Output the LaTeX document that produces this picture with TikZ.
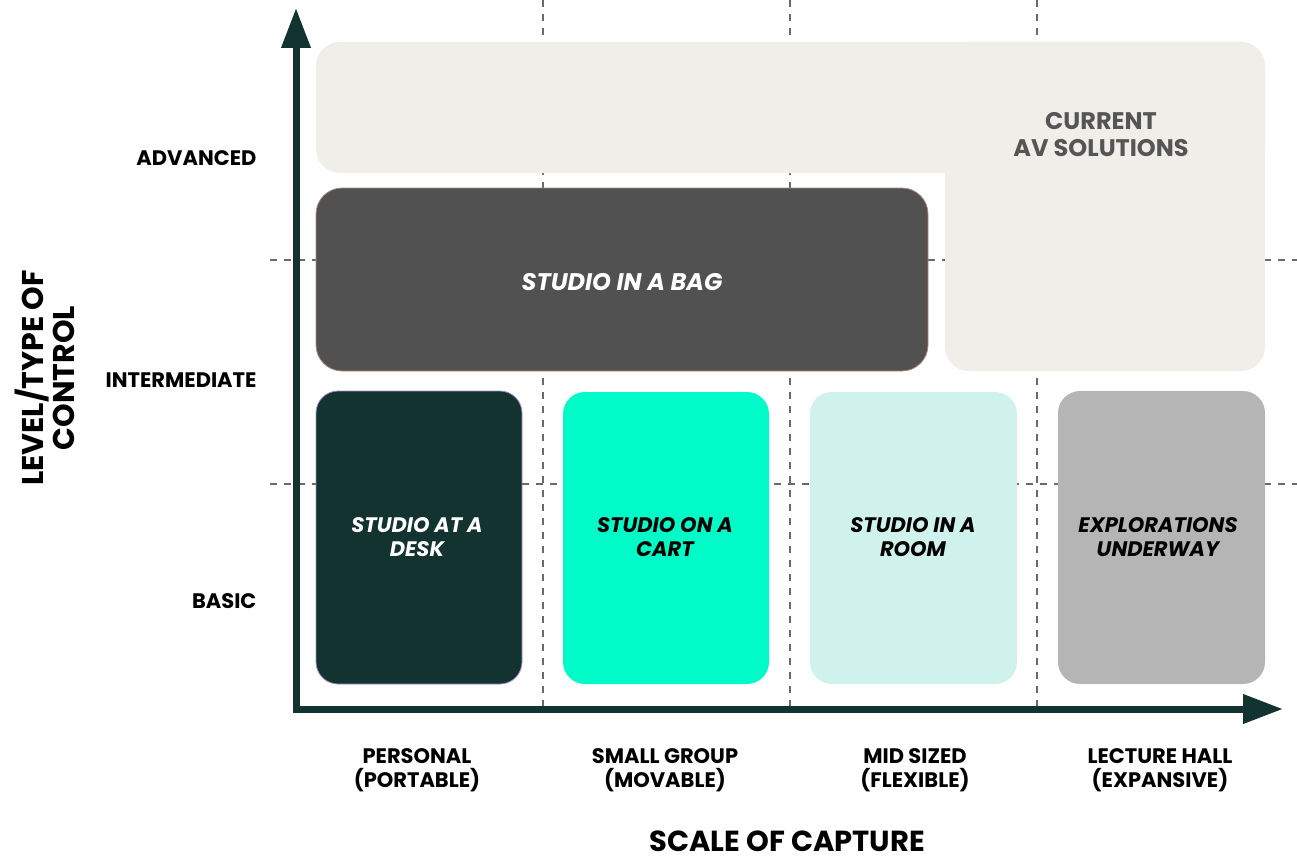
\documentclass[tikz,border=0pt]{standalone}
\usepackage{fontspec}
\setmainfont{Poppins}
\usetikzlibrary{arrows.meta}
\definecolor{axisc}{HTML}{12332F}
\definecolor{beige}{HTML}{F0EEE9}
\definecolor{bagc}{HTML}{515151}
\definecolor{deskc}{HTML}{133331}
\definecolor{cartc}{HTML}{00FAC8}
\definecolor{roomc}{HTML}{CFF2EC}
\definecolor{explc}{HTML}{B5B5B5}
\definecolor{dashc}{HTML}{6A6A6A}
\definecolor{curc}{HTML}{555555}
\tikzset{
  gridline/.style={dashc, line width=1.4pt, dash pattern=on 7pt off 7pt},
  axisline/.style={axisc, line width=7pt, -{Triangle[length=40pt,width=28pt]}},
  boxtxt/.style={font=\fontsize{21}{24}\selectfont\bfseries\itshape, align=center},
  ticklab/.style={font=\fontsize{21}{24}\selectfont\bfseries, align=center},
}
\begin{document}
\begin{tikzpicture}[x=1pt,y=-1pt]
\useasboundingbox (0,0) rectangle (1297,859);
% grid
\coordinate (v1t) at (543,0); \coordinate (v1b) at (543,709);
\coordinate (v2t) at (790,0); \coordinate (v2b) at (790,709);
\coordinate (v3t) at (1037,0); \coordinate (v3b) at (1037,709);
\coordinate (h1l) at (270,260); \coordinate (h1r) at (1297,260);
\coordinate (h2l) at (270,484); \coordinate (h2r) at (1297,484);
\draw[gridline] (v1t) -- (v1b);
\draw[gridline] (v2t) -- (v2b);
\draw[gridline] (v3t) -- (v3b);
\draw[gridline] (h1l) -- (h1r);
\draw[gridline] (h2l) -- (h2r);
% beige L shape
\fill[beige, rounded corners=24pt] (316,42) rectangle (1265,173);
\fill[beige, rounded corners=24pt] (945,42) rectangle (1265,371);
\node[font=\fontsize{24}{27}\selectfont\bfseries, text=curc, align=center] (cur) at (1101,135) {CURRENT\\AV SOLUTIONS};
% studio in a bag
\filldraw[fill=bagc, draw={rgb,255:red,176;green,140;blue,120}, line width=0.8pt, rounded corners=26pt] (316,188) rectangle (928,371);
\node[font=\fontsize{24}{27}\selectfont\bfseries\itshape, text=white] (bag) at (622,282) {STUDIO IN A BAG};
% lower boxes
\filldraw[fill=deskc, draw={rgb,255:red,160;green,140;blue,200}, line width=0.8pt, rounded corners=22pt] (316,391) rectangle (522,684);
\node[boxtxt, text=white] (desk) at (417,537) {STUDIO AT A\\DESK};
\fill[cartc, rounded corners=22pt] (563,392) rectangle (769,684);
\node[boxtxt, text=black] (cart) at (665,537) {STUDIO ON A\\CART};
\fill[roomc, rounded corners=22pt] (810,392) rectangle (1017,684);
\node[boxtxt, text=black] (room) at (913,537) {STUDIO IN A\\ROOM};
\fill[explc, rounded corners=22pt] (1058,391) rectangle (1265,684);
\node[boxtxt, text=black] (expl) at (1158,537) {EXPLORATIONS\\UNDERWAY};
% axes
\coordinate (O) at (296,709);
\coordinate (ytop) at (296,8);
\coordinate (xend) at (1283,709);
\coordinate (O2) at (292.5,709);
\draw[axisline] (O) -- (ytop);
\draw[axisline] (O2) -- (xend);
% tick labels
\node[ticklab, anchor=east] (adv) at (260,158) {ADVANCED};
\node[ticklab, anchor=east] (int) at (260,380) {INTERMEDIATE};
\node[ticklab, anchor=east] (bas) at (260,601) {BASIC};
\node[ticklab] (pers) at (417,770) {PERSONAL\\(PORTABLE)};
\node[ticklab] (small) at (665,770) {SMALL GROUP\\(MOVABLE)};
\node[ticklab] (mid) at (915,770) {MID SIZED\\(FLEXIBLE)};
\node[ticklab] (lect) at (1160,770) {LECTURE HALL\\(EXPANSIVE)};
% axis titles
\node[font=\fontsize{29}{30}\selectfont\bfseries, inner sep=0pt, anchor=base] (xt) at (787,851) {SCALE OF CAPTURE};
\node[font=\fontsize{30}{31}\selectfont\bfseries, align=center, rotate=90] (yt) at (45,378) {LEVEL/TYPE OF\\CONTROL};
\end{tikzpicture}
\end{document}
